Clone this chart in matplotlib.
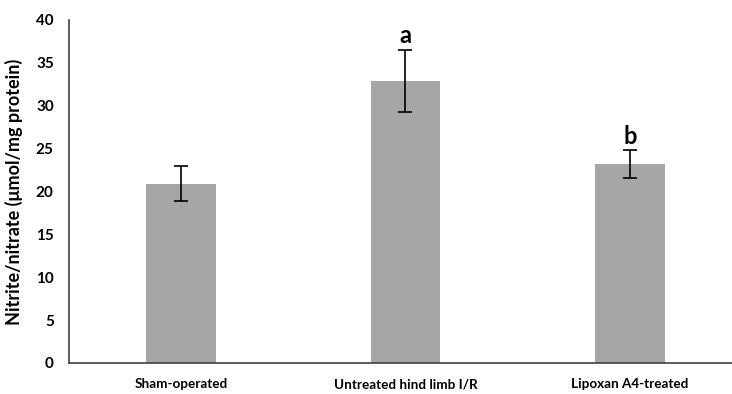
import matplotlib
matplotlib.use("Agg")
import matplotlib.pyplot as plt

categories = ["Sham-operated", "Untreated hind limb I/R", "Lipoxan A4-treated"]
values = [20.9, 32.9, 23.2]
errors = [2.05, 3.6, 1.6]
letters = ["", "a", "b"]
yticks = [0, 5, 10, 15, 20, 25, 30, 35, 40]

plt.rcParams['font.family'] = ['Lato', 'DejaVu Sans']
plt.rcParams['font.weight'] = 'bold'

fig = plt.figure(figsize=(7.32, 3.94), dpi=100)
ax = fig.add_axes([69/732, 1 - 363/394, (742 - 69)/732, (363 - 20)/394])

x = list(range(len(categories)))
ax.bar(x, values, width=0.31, color="#a6a6a6", zorder=2)
ax.errorbar(x, values, yerr=errors, fmt='none', ecolor='black', elinewidth=1.2,
            capsize=5, capthick=1.2, zorder=3)
for xi, v, e, l in zip(x, values, errors, letters):
    if l:
        ax.text(xi, v + e + 0.3, l, ha='center', va='bottom', fontsize=17, fontweight='bold')

ax.set_xlim(-0.5, 2.5)
ax.set_ylim(0, 40)
ax.set_yticks(yticks)
ax.set_yticklabels([str(t) for t in yticks], fontsize=11, fontweight='bold')
ax.set_xticks(x)
ax.set_xticklabels(categories, fontsize=9.7, fontweight='bold')
ax.tick_params(axis='y', length=0, pad=11)
ax.tick_params(axis='x', length=0, pad=11)
for s in ['top', 'right']:
    ax.spines[s].set_visible(False)
for s in ['left', 'bottom']:
    ax.spines[s].set_color('#404040')
    ax.spines[s].set_linewidth(1.2)
ax.set_ylabel("Nitrite/nitrate (\u03bcmol/mg protein)", fontsize=13, fontweight='bold', labelpad=9)

fig.savefig("out.png", dpi=100)
